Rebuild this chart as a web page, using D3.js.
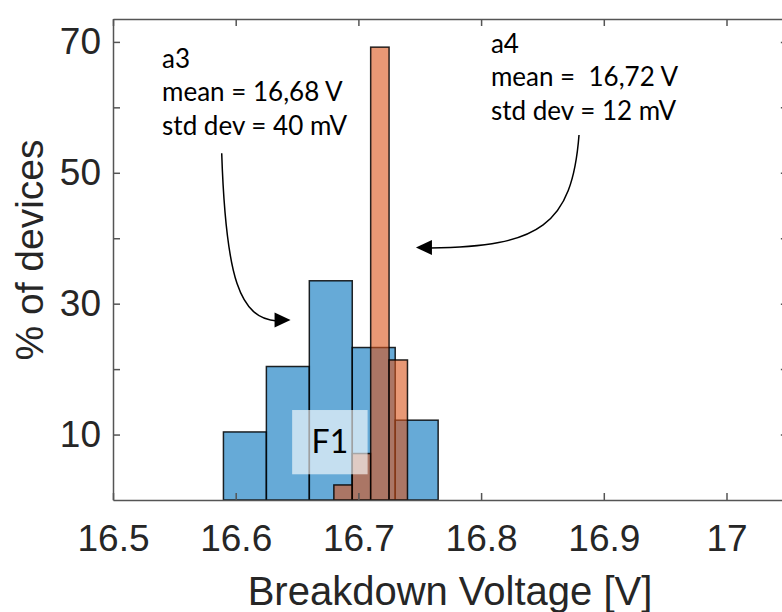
<!DOCTYPE html>
<html>
<head>
<meta charset="utf-8">
<script src="https://cdn.jsdelivr.net/npm/d3@7"></script>
<style>
  body { margin: 0; background: #fff; }
  svg { display: block; }
</style>
</head>
<body>
<svg id="chart" width="782" height="612"></svg>
<script>
// histogram bins (V) and heights (% of devices)
var blueEdges = [16.59, 16.625, 16.66, 16.695, 16.73, 16.765];
var blueValues = [10.4, 20.4, 33.5, 23.3, 12.2];
var orangeEdges = [16.68, 16.695, 16.71, 16.725, 16.74];
var orangeValues = [2.3, 7.1, 69.2, 21.4];

var xTicks = [16.5, 16.6, 16.7, 16.8, 16.9, 17];
var yTicks = [10, 20, 30, 40, 50, 60, 70];
var yLabelled = [10, 30, 50, 70];

var a3Lines = ["a3", "mean = 16,68 V", "std dev = 40 mV"];
var a4Lines = ["a4", "mean =  16,72 V", "std dev = 12 mV"];

var svg = d3.select("#chart");

var xScale = d3.scaleLinear().domain([16.5, 17.05]).range([113, 787.85]);
var yScale = d3.scaleLinear().domain([0, 73.5]).range([500, 19]);

function bins(edges, values){
  return values.map(function(v, i){ return {x0: edges[i], x1: edges[i+1], v: v}; });
}

function drawBars(data, color){
  svg.append("g")
     .selectAll("rect")
     .data(data)
     .enter()
     .append("rect")
     .attr("x", function(d){ return xScale(d.x0); })
     .attr("width", function(d){ return xScale(d.x1) - xScale(d.x0); })
     .attr("y", function(d){ return yScale(d.v); })
     .attr("height", function(d){ return yScale(0) - yScale(d.v); })
     .attr("fill", color)
     .attr("fill-opacity", 0.6)
     .attr("stroke", "#000")
     .attr("stroke-opacity", 0.85)
     .attr("stroke-width", 1.5);
}

drawBars(bins(blueEdges, blueValues), "rgb(0,114,189)");
drawBars(bins(orangeEdges, orangeValues), "rgb(217,83,25)");

// F1 box
svg.append("rect")
   .attr("x", xScale(16.646))
   .attr("y", yScale(13.75))
   .attr("width", xScale(16.7075) - xScale(16.646))
   .attr("height", yScale(3.93) - yScale(13.75))
   .attr("fill", "#fff")
   .attr("fill-opacity", 0.62);
svg.append("text")
   .attr("x", (xScale(16.646) + xScale(16.7075)) / 2)
   .attr("y", yScale(7.2))
   .attr("text-anchor", "middle")
   .attr("font-family", "Lato")
   .attr("font-size", 32)
   .attr("fill", "#000")
   .text("F1");

// axes
var xAxis = d3.axisBottom(xScale).tickValues(xTicks).tickSize(-7).tickSizeOuter(0).tickPadding(25)
              .tickFormat(function(d){ return String(d); });
var xTop = d3.axisTop(xScale).tickValues(xTicks).tickSize(-7).tickSizeOuter(0).tickFormat("");
var yAxis = d3.axisLeft(yScale).tickValues(yTicks).tickSize(-7).tickSizeOuter(0).tickPadding(12)
              .tickFormat(function(d){ return yLabelled.indexOf(d) >= 0 ? d : ""; });
var yRight = d3.axisRight(yScale).tickValues(yTicks).tickSize(-7).tickSizeOuter(0).tickFormat("");

function styleAxis(g){
  g.style("color", "#555");
  g.selectAll("path, line").attr("stroke-width", 1.5);
  g.selectAll("text")
   .attr("fill", "#262626")
   .attr("font-family", "Liberation Sans, Arial, sans-serif")
   .attr("font-size", 37);
}

svg.append("g").attr("transform", "translate(0,500)").call(xAxis).call(styleAxis);
svg.append("g").attr("transform", "translate(0,19)").call(xTop).call(styleAxis);
svg.append("g").attr("transform", "translate(113,0)").call(yAxis).call(styleAxis);
svg.append("g").attr("transform", "translate(787.85,0)").call(yRight).call(styleAxis);

// axis labels
svg.append("text")
   .attr("x", 450)
   .attr("y", 605)
   .attr("text-anchor", "middle")
   .attr("font-family", "Liberation Sans, Arial, sans-serif")
   .attr("font-size", 40)
   .attr("fill", "#262626")
   .text("Breakdown Voltage [V]");
svg.append("text")
   .attr("transform", "translate(43,250) rotate(-90)")
   .attr("text-anchor", "middle")
   .attr("font-family", "Liberation Sans, Arial, sans-serif")
   .attr("font-size", 39)
   .attr("fill", "#262626")
   .text("% of devices");

// annotations
function note(lines, x, y0){
  svg.append("g")
     .selectAll("text")
     .data(lines)
     .enter()
     .append("text")
     .attr("x", xScale(x))
     .attr("y", function(d, i){ return yScale(y0) + i*33.4; })
     .attr("font-family", "Lato")
     .attr("font-size", 26)
     .attr("fill", "#000")
     .style("white-space", "pre")
     .text(function(d){ return d; });
}
note(a3Lines, 16.54, 66.0);
note(a4Lines, 16.808, 68.3);

function arrow(pts, tip, dir){
  var p = pts.map(function(d){ return [xScale(d[0]), yScale(d[1])]; });
  svg.append("path")
     .attr("d", "M" + p[0] + "C" + p[1] + " " + p[2] + " " + p[3])
     .attr("fill", "none")
     .attr("stroke", "#000")
     .attr("stroke-width", 1.5);
  var tx = xScale(tip[0]), ty = yScale(tip[1]);
  var bx = tx - dir*16;
  svg.append("path")
     .attr("d", "M" + tx + "," + ty + "L" + bx + "," + (ty-7.5) + "L" + bx + "," + (ty+7.5) + "Z")
     .attr("fill", "#000");
}
arrow([[16.5886, 52.98], [16.592, 33.6], [16.6035, 27.8], [16.6337, 27.35]], [16.6447, 27.5], 1);
arrow([[16.8798, 55.78], [16.8741, 42.02], [16.848, 38.66], [16.7584, 38.51]], [16.7469, 38.57], -1);
</script>
</body>
</html>
